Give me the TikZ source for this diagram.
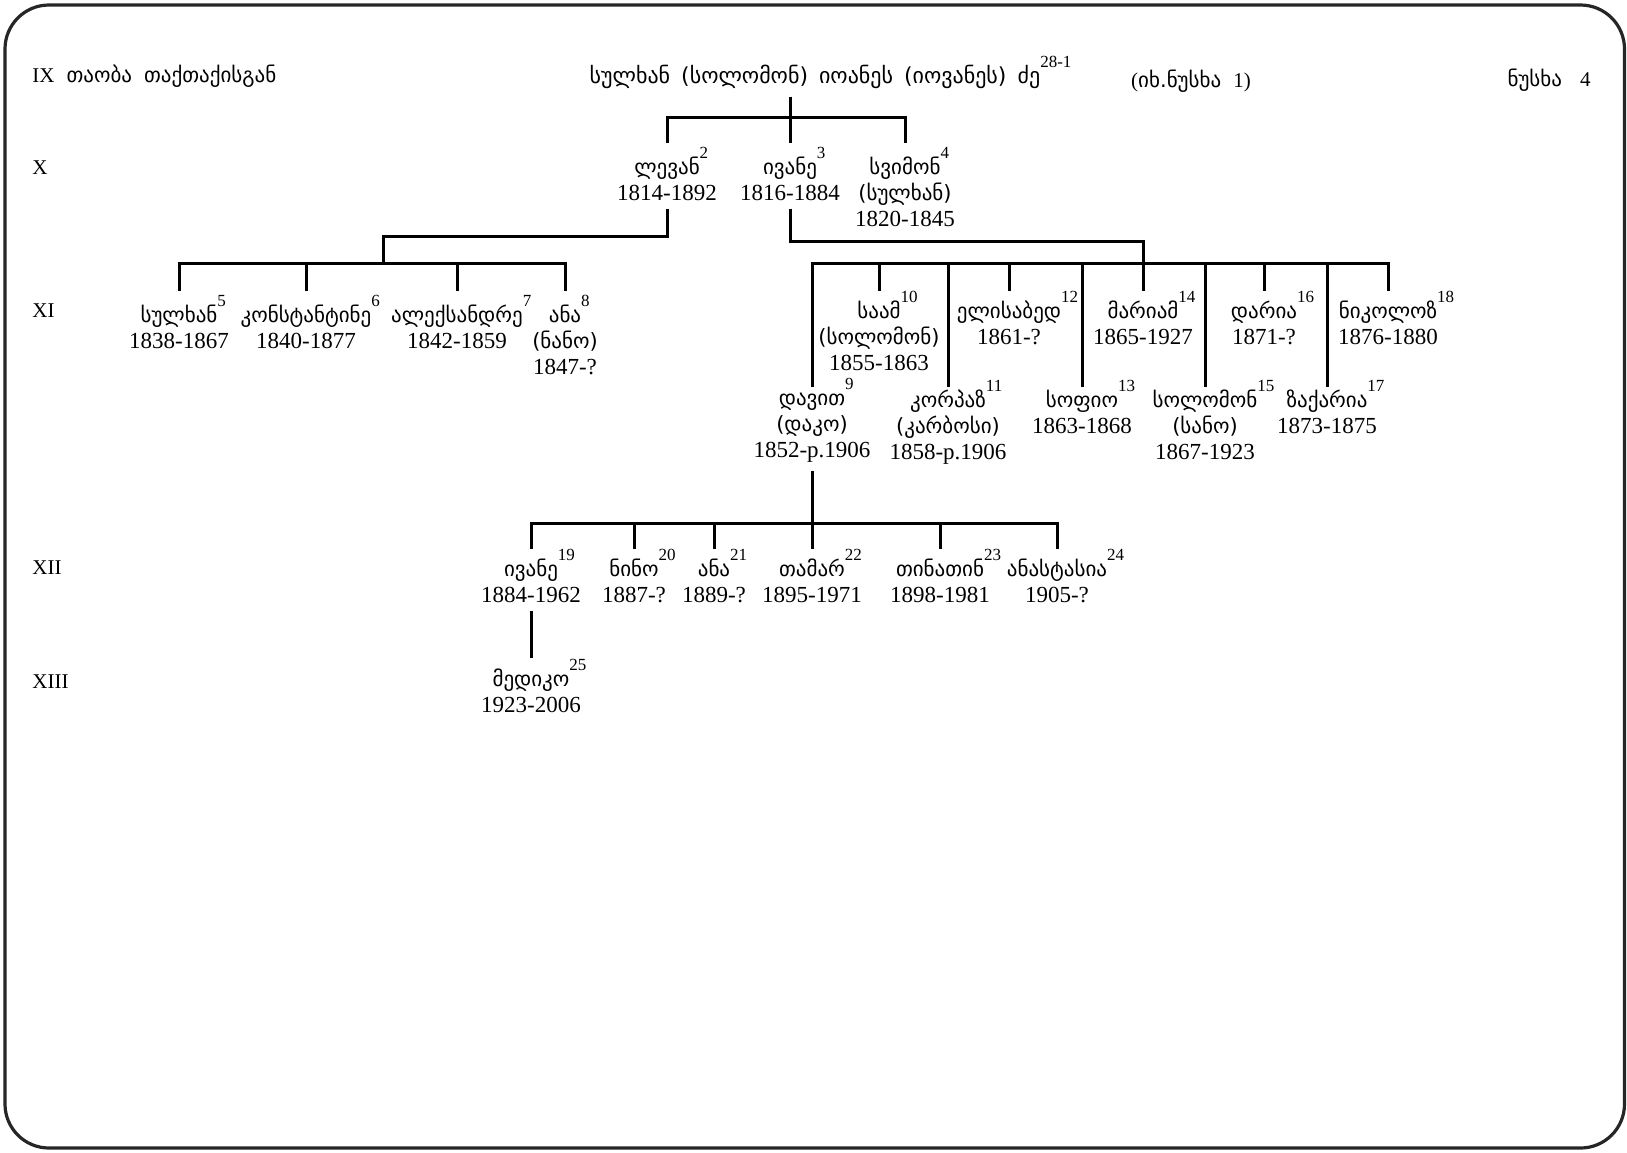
\documentclass[tikz,border=0pt]{standalone}
\usepackage{fontspec}
\setmainfont{Liberation Serif}
\newfontfamily\geo{DejaVu Sans}
\usetikzlibrary{positioning}

% georgian name, index number
\newcommand{\gn}[1]{{\geo\fontsize{10.5}{13}\selectfont\vphantom{(}#1}}
\newcommand{\nr}[1]{\rlap{\smash{\raisebox{8pt}{\fontsize{8.5}{9}\selectfont #1}}}}
\newcommand{\gap}{\hspace{5.5pt}}

\begin{document}
\begin{tikzpicture}[x=0.5pt, y=-0.5pt,
    person/.style={align=center, inner sep=0pt, outer ysep=4pt, anchor=north, font=\fontsize{11.5}{13}\selectfont},
    gen/.style={anchor=west, inner sep=0pt, font=\fontsize{10.5}{12}\selectfont},
    link/.style={line width=1.5pt},
    frame/.style={line width=1.6pt, rounded corners=22pt, draw=black!85}
]

\useasboundingbox (0,0) rectangle (1627,1152);
\draw[frame] (5,5) rectangle (1624.5,1148);

% generations
\node[gen] (gIX) at (32,76) {IX\hspace{6pt}\gn{თაობა\hspace{6pt}თაქთაქისგან}};
\node[gen] (gX) at (32,168) {X};
\node[gen] (gXI) at (32,311) {XI};
\node[gen] (gXII) at (32,568) {XII};
\node[gen] (gXIII) at (32,682) {XIII};
\node[gen, anchor=center] (seeone) at (1191,81) {(\gn{იხ.ნუსხა}\hspace{6pt}1)};
\node[gen, anchor=east] (listfour) at (1591,80) {\gn{ნუსხა}\hspace{9pt}4};

% root
\node[person] (root) at (815,57) {{\geo\fontsize{11}{13}\selectfont სულხან\gap(სოლომონ)\gap იოანეს\gap(იოვანეს)\gap ძე}\nr{28-1}};

% X
\node[person] (levan) at (667,149) {\gn{ლევან}\nr{2}\\1814-1892};
\node[person] (ivane) at (790,149) {\gn{ივანე}\nr{3}\\1816-1884};
\node[person] (svimon) at (905,149) {\gn{სვიმონ}\nr{4}\\\gn{(სულხან)}\\1820-1845};

% XI, levan
\node[person] (sulkhan) at (179,297) {\gn{სულხან}\nr{5}\\1838-1867};
\node[person] (konst) at (306,297) {\gn{კონსტანტინე}\nr{6}\\1840-1877};
\node[person] (alek) at (457,297) {\gn{ალექსანდრე}\nr{7}\\1842-1859};
\node[person] (ana) at (565,297) {\gn{ანა}\nr{8}\\\gn{(ნანო)}\\1847-?};

% XI, ivane
\node[person] (dawit) at (812,382) {\gn{დავით}\nr{9}\\\gn{(დაკო)}\\1852-p.1906};
\node[person] (saam) at (879,293) {\gn{საამ}\nr{10}\\\gn{(სოლომონ)}\\1855-1863};
\node[person] (korpaz) at (948,382) {\gn{კორპაზ}\nr{11}\\\gn{(კარბოსი)}\\1858-p.1906};
\node[person] (elisabed) at (1009,293) {\gn{ელისაბედ}\nr{12}\\1861-?};
\node[person] (sopio) at (1082,382) {\gn{სოფიო}\nr{13}\\1863-1868};
\node[person] (mariam) at (1143,293) {\gn{მარიამ}\nr{14}\\1865-1927};
\node[person] (solomon) at (1205,382) {\gn{სოლომონ}\nr{15}\\\gn{(სანო)}\\1867-1923};
\node[person] (daria) at (1264,293) {\gn{დარია}\nr{16}\\1871-?};
\node[person] (zakaria) at (1327,382) {\gn{ზაქარია}\nr{17}\\1873-1875};
\node[person] (nikoloz) at (1388,293) {\gn{ნიკოლოზ}\nr{18}\\1876-1880};

% XII
\node[person] (ivaneb) at (531,551) {\gn{ივანე}\nr{19}\\1884-1962};
\node[person] (nino) at (634,551) {\gn{ნინო}\nr{20}\\1887-?};
\node[person] (anab) at (714,551) {\gn{ანა}\nr{21}\\1889-?};
\node[person] (tamar) at (812,551) {\gn{თამარ}\nr{22}\\1895-1971};
\node[person] (tinatin) at (940,551) {\gn{თინათინ}\nr{23}\\1898-1981};
\node[person] (anastasia) at (1057,551) {\gn{ანასტასია}\nr{24}\\1905-?};

% XIII
\node[person] (mediko) at (531,661) {\gn{მედიკო}\nr{25}\\1923-2006};

% bar levels
\coordinate (barX) at (0,117);
\coordinate (endX) at (0,143);
\coordinate (levanjoin) at (383,236);
\coordinate (ivanejoin) at (0,241);
\coordinate (barXI) at (0,263);
\coordinate (endXI) at (0,291);
\coordinate (endXIlow) at (0,387);
\coordinate (barXII) at (0,523);
\coordinate (endXII) at (0,549);
\coordinate (endXIII) at (0,658);

\draw[link] (root.south -| ivane) -- (ivane |- endX);
\draw[link] (levan |- endX) |- (svimon |- barX) -- (svimon |- endX);

\draw[link] (levan.south) |- (levanjoin) -- (levanjoin |- barXI);
\draw[link] (sulkhan |- endXI) |- (ana |- barXI) -- (ana |- endXI);
\draw[link] (konst |- barXI) -- (konst |- endXI);
\draw[link] (alek |- barXI) -- (alek |- endXI);

\draw[link] (ivane.south) |- (mariam |- ivanejoin) -- (mariam |- endXI);
\draw[link] (dawit |- endXIlow) |- (nikoloz |- barXI) -- (nikoloz |- endXI);
\draw[link] (saam |- barXI) -- (saam |- endXI);
\draw[link] (korpaz |- barXI) -- (korpaz |- endXIlow);
\draw[link] (elisabed |- barXI) -- (elisabed |- endXI);
\draw[link] (sopio |- barXI) -- (sopio |- endXIlow);
\draw[link] (solomon |- barXI) -- (solomon |- endXIlow);
\draw[link] (daria |- barXI) -- (daria |- endXI);
\draw[link] (zakaria |- barXI) -- (zakaria |- endXIlow);

\draw[link] (dawit.south) -- (tamar |- endXII);
\draw[link] (ivaneb |- endXII) |- (anastasia |- barXII) -- (anastasia |- endXII);
\draw[link] (nino |- barXII) -- (nino |- endXII);
\draw[link] (anab |- barXII) -- (anab |- endXII);
\draw[link] (tinatin |- barXII) -- (tinatin |- endXII);

\draw[link] (ivaneb.south) -- (mediko |- endXIII);

\end{tikzpicture}
\end{document}
